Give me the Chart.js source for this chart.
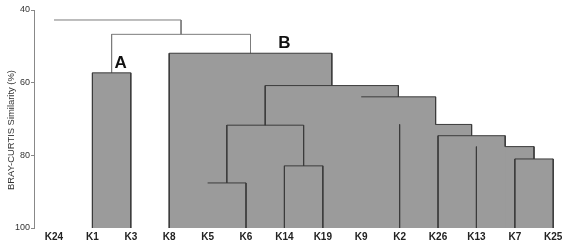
<!DOCTYPE html>
<html>
<head>
<meta charset="utf-8">
<script src="https://cdn.jsdelivr.net/npm/chart.js@4/dist/chart.umd.min.js"></script>
<style>
  html, body { margin: 0; padding: 0; background: #ffffff; }
  #wrap { width: 574px; height: 245px; }
</style>
</head>
<body>
<div id="wrap"><canvas id="c" width="574" height="245"></canvas></div>
<script>
// ---- data ----
const leaves = ['K24','K1','K3','K8','K5','K6','K14','K19','K9','K2','K26','K13','K7','K25'];
// merge table: negative = leaf (1-based), positive = earlier merge (1-based)
const mergeLeft   = [-13, -12, -11, -10,  -9,  -5,  -7,  6,  8,   -4,  -2,  11,    -1];
const mergeRight  = [-14,   1,   2,   3,   4,  -6,  -8,  7,  5,    9,  -3,  10,    12];
const mergeHeight = [81.0, 77.6, 74.6, 71.5, 63.9, 87.6, 82.9, 71.7, 60.8, 51.9, 57.3, 46.7, 42.75];
const clusterNames = ['A', 'B'];
const clusterNodes = [11, 10];
const yTicks = [40, 60, 80, 100];
const yTitle = 'BRAY-CURTIS Similarity (%)';

// ---- style details of the original drawing ----
const hiddenStems = ['K24', 'K5', 'K9'];
const halfBars = [2, 4];
const FILL = '#9b9b9b', DARK = '#3c3c3c', LIGHT = '#7c7c7c';

// ---- tree geometry in data units ----
const nodeX = [], nodeH = [];
function xOf(id) { return id < 0 ? (-id - 1) : nodeX[id - 1]; }
function hOf(id) { return id < 0 ? 100 : nodeH[id - 1]; }
for (let i = 0; i < mergeHeight.length; i++) {
  nodeX[i] = (xOf(mergeLeft[i]) + xOf(mergeRight[i])) / 2;
  nodeH[i] = mergeHeight[i];
}
function subtree(id, out) {
  if (id > 0) { out.push(id); subtree(mergeLeft[id - 1], out); subtree(mergeRight[id - 1], out); }
  return out;
}
const inside = new Set();
const fillSets = clusterNodes.map(c => subtree(c, []));
fillSets.forEach(s => s.forEach(m => inside.add(m)));

const datasets = [];
// filled rectangles under every merge of the marked clusters
fillSets.forEach(set => set.forEach(m => {
  const l = mergeLeft[m - 1], r = mergeRight[m - 1], h = mergeHeight[m - 1];
  datasets.push({
    type: 'line', data: [{x: xOf(l), y: h}, {x: xOf(r), y: h}],
    borderWidth: 0, borderColor: 'rgba(0,0,0,0)', backgroundColor: FILL,
    fill: {value: 100}, pointRadius: 0, order: 2
  });
}));
// dendrogram lines
const darkPts = [], lightPts = [];
for (let m = 1; m <= mergeHeight.length; m++) {
  const pts = inside.has(m) ? darkPts : lightPts;
  const l = mergeLeft[m - 1], r = mergeRight[m - 1], h = mergeHeight[m - 1];
  const xl = xOf(l), xr = xOf(r);
  const startX = halfBars.includes(m) ? nodeX[m - 1] : xl;
  pts.push({x: startX, y: h}, {x: xr, y: h}, {x: xr, y: null});
  [l, r].forEach(c => {
    if (c < 0 && hiddenStems.includes(leaves[-c - 1])) return;
    pts.push({x: xOf(c), y: h}, {x: xOf(c), y: hOf(c)}, {x: xOf(c), y: null});
  });
}
datasets.push({ type: 'line', data: darkPts, borderColor: DARK, borderWidth: 1, pointRadius: 0, fill: false, spanGaps: false, order: 1 });
datasets.push({ type: 'line', data: lightPts, borderColor: LIGHT, borderWidth: 1, pointRadius: 0, fill: false, spanGaps: false, order: 1 });

// cluster letters and the (stretched) y-axis title
const textPlugin = {
  id: 'texts',
  afterDatasetsDraw(chart) {
    const {ctx, scales: {x, y}, chartArea} = chart;
    ctx.save();
    ctx.font = 'bold 17px Arial, "Liberation Sans", sans-serif';
    ctx.fillStyle = '#111';
    ctx.textAlign = 'center';
    ctx.textBaseline = 'bottom';
    clusterNodes.forEach((m, i) => {
      const px = x.getPixelForValue(nodeX[m - 1]) + (i === 0 ? 9 : 34);
      const py = y.getPixelForValue(mergeHeight[m - 1]) - 1;
      ctx.fillText(clusterNames[i], px, py);
    });
    ctx.restore();

    ctx.save();
    ctx.font = '8.5px Arial, "Liberation Sans", sans-serif';
    ctx.fillStyle = '#333';
    ctx.textAlign = 'center';
    ctx.textBaseline = 'middle';
    const w = ctx.measureText(yTitle).width;
    const target = (chartArea.bottom - chartArea.top) * 0.55;
    ctx.translate(12, (chartArea.top + chartArea.bottom) / 2 + 11);
    ctx.rotate(-Math.PI / 2);
    ctx.scale(target / w, 1);
    ctx.fillText(yTitle, 0, 0);
    ctx.restore();
  }
};

Chart.defaults.font.family = 'Arial, "Liberation Sans", sans-serif';
new Chart(document.getElementById('c'), {
  type: 'scatter',
  data: { datasets },
  plugins: [textPlugin],
  options: {
    responsive: false, animation: false, devicePixelRatio: 1,
    layout: { padding: { left: 0, right: 4, top: 10, bottom: 0 } },
    plugins: { legend: { display: false }, tooltip: { enabled: false } },
    scales: {
      x: {
        type: 'linear', min: -0.521, max: 13.437,
        grid: { display: false, drawTicks: false }, border: { display: false },
        afterBuildTicks: ax => { ax.ticks = leaves.map((_, i) => ({ value: i })); },
        afterFit: ax => { ax.height = 17; },
        ticks: { autoSkip: false, maxRotation: 0, padding: 3, color: '#222',
                 font: { size: 10, weight: 'bold' },
                 callback: v => leaves[v] }
      },
      y: {
        type: 'linear', min: 40, max: 100, reverse: true,
        afterBuildTicks: ax => { ax.ticks = yTicks.map(v => ({ value: v })); },
        afterFit: ax => { ax.width = 34; },
        grid: { drawOnChartArea: false, drawTicks: true, tickLength: 3, color: '#888' },
        border: { display: true, color: '#888', width: 1 },
        ticks: { padding: 1, color: '#333', font: { size: 9 } }
      }
    }
  }
});
</script>
</body>
</html>
